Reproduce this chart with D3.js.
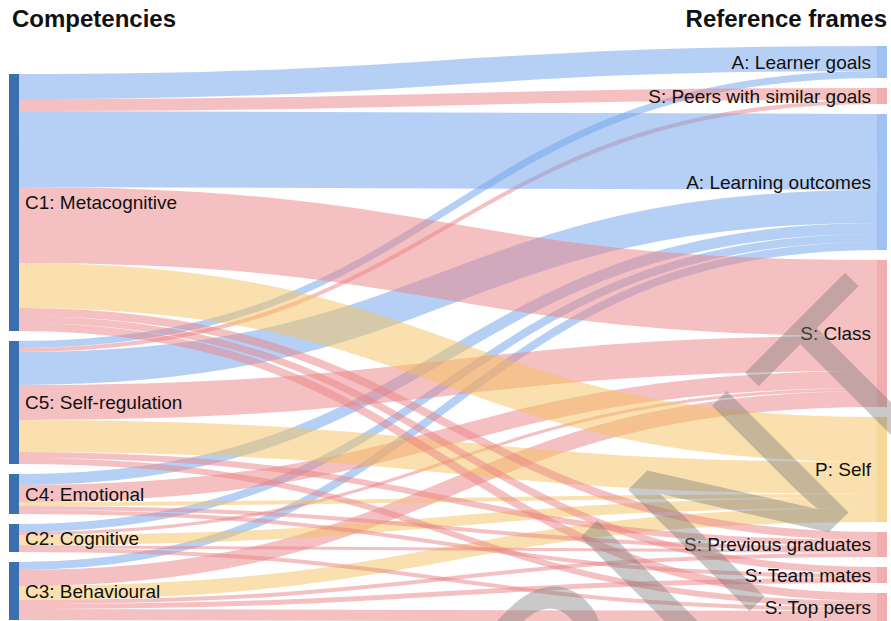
<!DOCTYPE html>
<html lang="en">
<head>
<meta charset="utf-8">
<script src="https://d3js.org/d3.v7.min.js"></script>
<style type="text/css">
body {
	margin: 0;
	background: #fff;
	font-family: "Liberation Sans", Arial, Helvetica, sans-serif;
}
</style>
</head>
<body>
<script type="text/javascript">

var width = 891;
var height = 621;

// columns
var columns = ["Competencies", "Reference frames"];

// left nodes, top to bottom
var competencies = ["C1: Metacognitive", "C5: Self-regulation", "C4: Emotional", "C2: Cognitive", "C3: Behavioural"];

// right nodes, top to bottom
var frames = ["A: Learner goals", "S: Peers with similar goals", "A: Learning outcomes", "S: Class",
	"P: Self", "S: Previous graduates", "S: Team mates", "S: Top peers"];

// flow from each competency to each frame (same order as frames), 0 = no link
var C1 = [25, 12, 76, 76, 45, 8, 7, 8];
var C5 = [7, 4, 33, 35, 32, 6, 0, 6];
var C4 = [0, 0, 11, 17, 4, 4, 4, 0];
var C2 = [0, 0, 8, 3, 10, 3, 0, 4];
var C3 = [0, 0, 8, 16, 14, 4, 5, 11];
var flows = [C1, C5, C4, C2, C3];

// frame type -> colour (A: blue, S: red, P: yellow)
var typeColor = {A: "#6da1eb", S: "#eb8184", P: "#f3c15d"};

var nodeWidth = 10;
var nodePad = 10;
var chartTop = 46;
var chartBottom = 622;

var svg = d3.select("body")
	.append("svg")
	.attr("width", width)
	.attr("height", height);

// x position of the two node columns
var x = d3.scalePoint()
	.domain(columns)
	.range([9, 877]);

// build links
var links = [];
flows.forEach(function(row, i) {
	row.forEach(function(v, j) {
		if (v > 0) links.push({s: i, t: j, value: v});
	});
});

var leftVal = flows.map(function(r) { return d3.sum(r); });
var rightVal = frames.map(function(f, j) { return d3.sum(flows, function(r) { return r[j]; }); });
var total = d3.sum(rightVal);

// value -> pixel height, the right column (most nodes) fills the whole extent
var ky = d3.scaleLinear()
	.domain([0, total])
	.range([0, chartBottom - chartTop - (frames.length - 1) * nodePad]);

function stack(names, vals, start) {
	var y = start;
	return names.map(function(name, i) {
		var n = {name: name, value: vals[i], y0: y, y1: y + ky(vals[i])};
		y = n.y1 + nodePad;
		return n;
	});
}

var rightNodes = stack(frames, rightVal, chartTop);
var leftHeight = ky(d3.sum(leftVal)) + (competencies.length - 1) * nodePad;
var leftNodes = stack(competencies, leftVal, chartBottom - leftHeight - 2);

// link positions on each node
var srcOff = leftNodes.map(function(n) { return n.y0; });
var tgtOff = rightNodes.map(function(n) { return n.y0; });

links.slice().sort(function(a, b) { return a.s - b.s || a.t - b.t; }).forEach(function(l) {
	l.w = ky(l.value);
	l.y0 = srcOff[l.s] + l.w / 2;
	srcOff[l.s] += l.w;
});
links.sort(function(a, b) { return a.t - b.t || a.s - b.s; }).forEach(function(l) {
	l.y1 = tgtOff[l.t] + l.w / 2;
	tgtOff[l.t] += l.w;
});

function frameColor(name) { return typeColor[name.charAt(0)]; }

var linkPath = d3.linkHorizontal()
	.source(function(d) { return [x(columns[0]) + nodeWidth, d.y0]; })
	.target(function(d) { return [x(columns[1]), d.y1]; });

// links
svg.append("g")
	.attr("fill", "none")
	.selectAll("path")
	.data(links)
	.enter()
	.append("path")
	.attr("d", linkPath)
	.attr("stroke", function(d) { return frameColor(frames[d.t]); })
	.attr("stroke-opacity", 0.5)
	.attr("stroke-width", function(d) { return Math.max(1, d.w); });

// left nodes
svg.append("g")
	.selectAll("rect")
	.data(leftNodes)
	.enter()
	.append("rect")
	.attr("x", x(columns[0]))
	.attr("y", function(d) { return d.y0; })
	.attr("width", nodeWidth)
	.attr("height", function(d) { return d.y1 - d.y0; })
	.attr("fill", "#3a6fb0");

// right nodes
svg.append("g")
	.selectAll("rect")
	.data(rightNodes)
	.enter()
	.append("rect")
	.attr("x", x(columns[1]))
	.attr("y", function(d) { return d.y0; })
	.attr("width", nodeWidth)
	.attr("height", function(d) { return d.y1 - d.y0; })
	.attr("fill", function(d) { return frameColor(d.name); })
	.attr("fill-opacity", 0.65);

// node labels
svg.append("g")
	.style("font-size", "19px")
	.attr("fill", "#111")
	.selectAll("text")
	.data(leftNodes)
	.enter()
	.append("text")
	.attr("x", x(columns[0]) + nodeWidth + 6)
	.attr("y", function(d) { return (d.y0 + d.y1) / 2; })
	.attr("dy", "0.35em")
	.text(function(d) { return d.name; });

svg.append("g")
	.style("font-size", "19px")
	.attr("fill", "#111")
	.attr("text-anchor", "end")
	.selectAll("text")
	.data(rightNodes)
	.enter()
	.append("text")
	.attr("x", x(columns[1]) - 6)
	.attr("y", function(d) { return (d.y0 + d.y1) / 2; })
	.attr("dy", "0.35em")
	.text(function(d) { return d.name; });

// column titles
svg.append("text")
	.attr("x", 12)
	.attr("y", 27)
	.style("font-size", "24px")
	.style("font-weight", "bold")
	.attr("fill", "#111")
	.text(columns[0]);

svg.append("text")
	.attr("x", 887)
	.attr("y", 27)
	.attr("text-anchor", "end")
	.style("font-size", "24px")
	.style("font-weight", "bold")
	.attr("fill", "#111")
	.text(columns[1]);

// watermark
svg.append("text")
	.attr("transform", "translate(77,1284) rotate(-45)")
	.style("font-size", "250px")
	.attr("fill", "#787878")
	.attr("fill-opacity", 0.4)
	.text("PREPRINT");

</script>
</body>
</html>
